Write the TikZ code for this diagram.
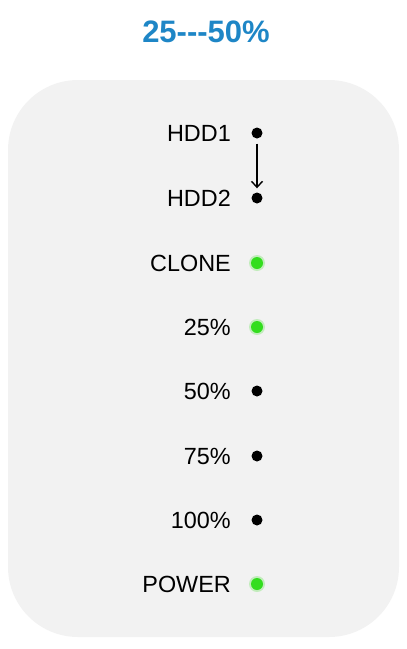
\documentclass[tikz,border=0pt]{standalone}
\usepackage{fontspec}
\setmainfont{Liberation Sans}
\usepackage{xcolor}
\usepackage{tikz}
\usetikzlibrary{arrows,arrows.meta,positioning,calc}

\definecolor{panelgray}{HTML}{F2F2F2}
\definecolor{titleblue}{HTML}{1E86C6}
\definecolor{ledgreen}{HTML}{33DD1E}

\begin{document}
\begin{tikzpicture}[x=1pt,y=-1pt,
  lbl/.style={anchor=east,inner sep=0pt,font=\fontsize{23.4}{28}\selectfont},
  ledoff/.style={circle,fill=black,inner sep=0pt,minimum size=11pt},
  ledon/.style={circle,fill=ledgreen,inner sep=0pt,minimum size=12pt}]
\useasboundingbox (0,0) rectangle (407,649);
% panel
\fill[panelgray,rounded corners=70pt] (8,80) rectangle (399,637);
% title
\node[text=titleblue,font=\bfseries\fontsize{31}{36}\selectfont] (title) at (206,32) {25{-}{-}{-}50\%};

% labels and leds
\foreach \name/\txt/\y/\st in {hdda/HDD1/133/ledoff, hddb/HDD2/198/ledoff,
    clone/CLONE/263/ledon, p25/25\%/327/ledon, p50/50\%/391/ledoff,
    p75/75\%/456/ledoff, p100/100\%/520/ledoff, power/POWER/584/ledon} {
  \node[lbl] (\name-t) at (231,\y) {\txt};
  \node[\st] (\name) at (257,\y) {};
}
% glow on the green leds
\foreach \name in {clone,p25,power}
  \fill[ledgreen,opacity=0.25] (\name) circle (8pt);

% copy direction
\draw[-{Straight Barb[length=6pt,width=11pt]},line width=1.4pt,shorten >=4pt,shorten <=5pt] (hdda) -- (hddb);
\end{tikzpicture}
\end{document}
